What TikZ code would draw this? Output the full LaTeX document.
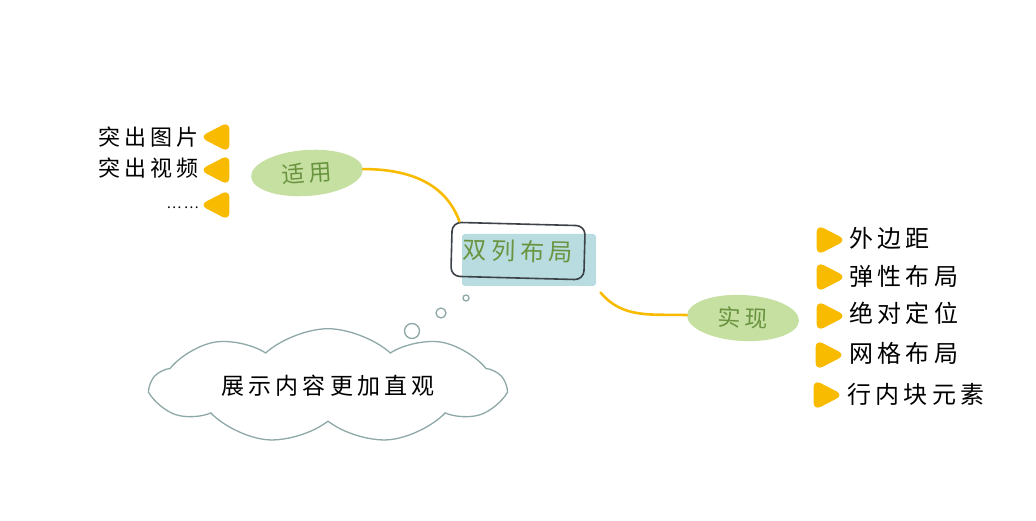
\documentclass[tikz,border=0pt]{standalone}
\usepackage{fontspec}
\newfontfamily\cjk[LetterSpace=18]{Noto Sans CJK SC}
\newfontfamily\cjkwide[LetterSpace=20]{Noto Sans CJK SC}
\usepackage{xcolor}
\usepackage{tikz}
\usetikzlibrary{positioning,shapes.geometric,shapes.symbols}

\definecolor{branchyellow}{HTML}{F8BB00}
\definecolor{blobgreen}{HTML}{C6E0A2}
\definecolor{textgreen}{HTML}{6A9440}
\definecolor{mainteal}{HTML}{B8DCE0}
\definecolor{outlinegray}{HTML}{3C4248}
\definecolor{cloudgray}{HTML}{8EA8A8}

\begin{document}
\begin{tikzpicture}[
  x=1pt, y=-1pt,
  mainbox/.style={rectangle, draw=outlinegray, line width=1.6pt, rounded corners=9pt, minimum width=133pt, minimum height=54pt, text=textgreen, font=\cjkwide\fontsize{24}{26}\selectfont, inner sep=0pt},
  mainfill/.style={rectangle, fill=mainteal, rounded corners=3pt, minimum width=134pt, minimum height=52pt},
  blob/.style={ellipse, fill=blobgreen, minimum width=112pt, minimum height=46pt, text=textgreen, font=\cjk\fontsize{23}{25}\selectfont},
  leaf/.style={isosceles triangle, isosceles triangle stretches, fill=branchyellow, rounded corners=8pt, minimum width=31pt, minimum height=30pt, inner sep=0pt},
  leafL/.style={leaf, shape border rotate=180},
  leafR/.style={leaf, shape border rotate=0},
  item/.style={font=\cjk\fontsize{24}{26}\selectfont, text=black, inner sep=0pt},
  itemL/.style={font=\cjk\fontsize{22}{24}\selectfont, text=black, inner sep=0pt},
  bubble/.style={circle, draw=cloudgray, line width=1.3pt, fill=white, inner sep=0pt},
  branch/.style={draw=branchyellow, line width=2.6pt, line cap=round}
]
  \useasboundingbox (0,0) rectangle (1036,521);

  % central topic
  \node[mainfill] (mainbg) at (529,260) {};
  \node[mainbox, rotate=-1.5] (main) at (518,251) {双列布局};

  % branch nodes
  \node[blob, rotate=4] (use) at (307,173) {适用};
  \node[blob, rotate=-3] (impl) at (743,318) {实现};

  % branches
  \draw[branch] ([xshift=8pt]main.north west) to[out=110,in=0] (use.east);
  \draw[branch] ([xshift=16pt,yshift=-12pt]main.south east) to[out=-50,in=178] (impl.west);

  % left leaves
  \node[leafL] (l1) at (220,137) {};
  \node[leafL] (l2) at (220,170) {};
  \node[leafL] (l3) at (220,205) {};
  \node[itemL, anchor=east] (t1) at (199,137) {突出图片};
  \node[itemL, anchor=east] (t2) at (199,168) {突出视频};
  \node[itemL, anchor=east, font=\cjk\fontsize{14}{16}\selectfont] (t3) at (199,208) {……};

  % right leaves
  \node[leafR] (r1) at (826,240) {};
  \node[leafR] (r2) at (826,277) {};
  \node[leafR] (r3) at (826,316) {};
  \node[leafR] (r4) at (825,355) {};
  \node[leafR] (r5) at (823,395) {};
  \node[item, anchor=west] (s1) at (849,238) {外边距};
  \node[item, anchor=west] (s2) at (849,276) {弹性布局};
  \node[item, anchor=west] (s3) at (849,313) {绝对定位};
  \node[item, anchor=west] (s4) at (849,353) {网格布局};
  \node[item, anchor=west] (s5) at (847,394) {行内块元素};

  % thought cloud
  \node[bubble, minimum size=6pt] (b3) at (466,298) {};
  \node[bubble, minimum size=10pt] (b2) at (441,313) {};
  \node[bubble, minimum size=15pt] (b1) at (412,331) {};
  \node[cloud, cloud puffs=9, cloud puff arc=85, aspect=3.8, draw=cloudgray, line width=1.3pt, fill=white, minimum width=352pt, minimum height=92pt, itemL, font=\cjk\fontsize{23}{25}\selectfont] (note) at (328,386) {展示内容更加直观};
\end{tikzpicture}
\end{document}
